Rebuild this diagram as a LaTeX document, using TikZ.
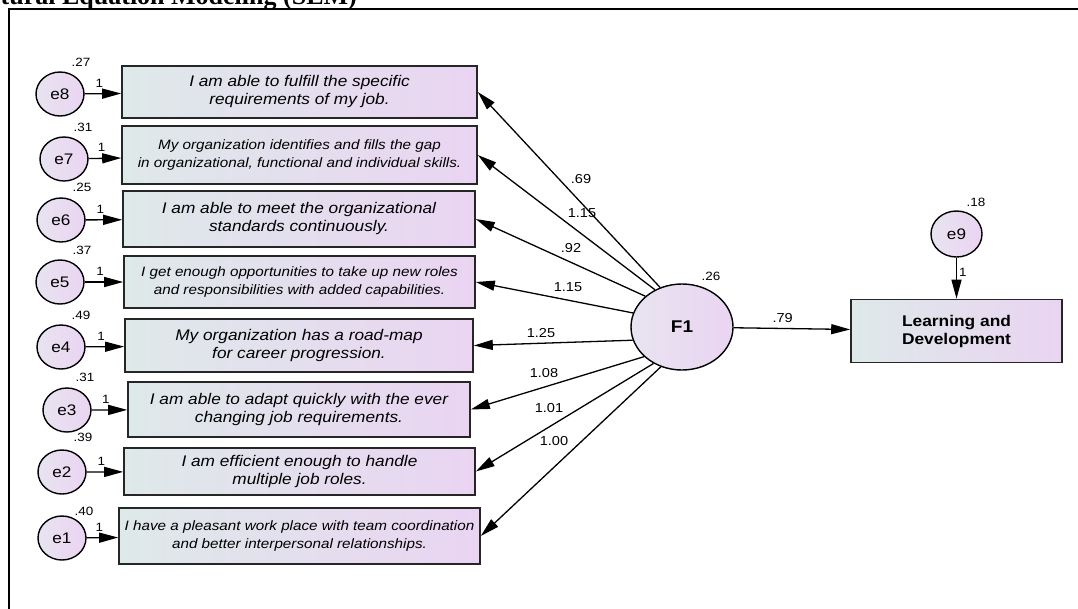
\documentclass[tikz,border=0pt]{standalone}
\usepackage{fontspec}
\setmainfont{Liberation Sans}[FakeStretch=1.12]
\newfontfamily\titlefont{Liberation Serif}
\usetikzlibrary{arrows.meta,shapes.geometric}
\definecolor{itemleft}{RGB}{222,233,233}
\definecolor{itemright}{RGB}{234,212,242}
\definecolor{errleft}{RGB}{232,228,240}
\newcommand{\itemtxt}{\fontsize{15.4}{18}\selectfont\itshape}
\newcommand{\itemsmall}{\fontsize{13.6}{18}\selectfont\itshape}
\begin{document}
\begin{tikzpicture}[x=1pt,y=-1pt,
  item/.style={draw=black!85,line width=1.6pt,rectangle,left color=itemleft,right color=itemright,align=center,inner sep=0pt},
  err/.style={draw=black,line width=1.4pt,ellipse,minimum width=48pt,minimum height=44pt,inner sep=0pt,left color=errleft,right color=itemright,font=\fontsize{15.3}{18}\selectfont},
  var/.style={font=\fontsize{12}{14}\selectfont,inner sep=0pt},
  coef/.style={font=\fontsize{13}{15}\selectfont,inner sep=0pt},
  one/.style={font=\fontsize{12}{14}\selectfont,inner sep=1pt},
  arr/.style={line width=1.3pt,-{Triangle[length=19pt,width=10pt]}}]
\useasboundingbox(0,0)rectangle(1078,608);
% Rahmen und Titel
\begin{scope}
\clip(0,0)rectangle(1078,608);
\node[overlay,anchor=base east,inner sep=0pt,font=\titlefont\bfseries\fontsize{26}{28}\selectfont]at(357,4.5)(title){Structural Equation Modeling (SEM)};
\end{scope}
\draw[line width=2.5pt](9,610) -- (9,9) -- (1080,9);

% Items
\node[item,minimum width=355pt,minimum height=52pt,font=\itemtxt]at(299.5,92)(item8){I am able to fulfill the specific\\requirements of my job.};
\node[item,minimum width=355pt,minimum height=58pt,font=\itemsmall]at(299.5,155)(item7){My organization identifies and fills the gap\\in organizational, functional and individual skills.};
\node[item,minimum width=352pt,minimum height=56pt,font=\itemtxt]at(299,219)(item6){I am able to meet the organizational\\standards continuously.};
\node[item,minimum width=351pt,minimum height=52pt,font=\itemsmall]at(299.5,282)(item5){I get enough opportunities to take up new roles\\and responsibilities with added capabilities.};
\node[item,minimum width=348pt,minimum height=53pt,font=\itemtxt]at(299,345.5)(item4){My organization has a road-map\\for career progression.};
\node[item,minimum width=342pt,minimum height=55pt,font=\itemtxt]at(299,409.5)(item3){I am able to adapt quickly with the ever\\changing job requirements.};
\node[item,minimum width=351pt,minimum height=47pt,font=\itemtxt]at(299.5,471.5)(item2){I am efficient enough to handle\\multiple job roles.};
\node[item,minimum width=361pt,minimum height=56pt,font=\itemsmall]at(299.5,536)(item1){I have a pleasant work place with team coordination\\and better interpersonal relationships.};

% Fehlerterme
\node[err]at(60,94)(e8){e8};
\node[err]at(64,159)(e7){e7};
\node[err]at(61,220)(e6){e6};
\node[err]at(60,282)(e5){e5};
\node[err]at(61,347)(e4){e4};
\node[err]at(67,410)(e3){e3};
\node[err]at(62,472)(e2){e2};
\node[err]at(62,538)(e1){e1};
\node[var]at(81,62)(v8){.27};
\node[var]at(83,127)(v7){.31};
\node[var]at(82,187)(v6){.25};
\node[var]at(82,250)(v5){.37};
\node[var]at(81,315)(v4){.49};
\node[var]at(85,377)(v3){.31};
\node[var]at(83,437)(v2){.39};
\node[var]at(84,511)(v1){.40};
\draw[arr](e8) to node[one,pos=0.4,above=5pt](o8){1}(item8);
\draw[arr](e7) to node[one,pos=0.4,above=5pt](o7){1}(item7);
\draw[arr](e6) to node[one,pos=0.4,above=5pt](o6){1}(item6);
\draw[arr](e5) to node[one,pos=0.4,above=5pt](o5){1}(item5);
\draw[arr](e4) to node[one,pos=0.4,above=5pt](o4){1}(item4);
\draw[arr](e3) to node[one,pos=0.4,above=5pt](o3){1}(item3);
\draw[arr](e2) to node[one,pos=0.4,above=5pt](o2){1}(item2);
\draw[arr](e1) to node[one,pos=0.4,above=5pt](o1){1}(item1);

% Faktor
\node[draw,ellipse,line width=1.4pt,minimum width=102pt,minimum height=86pt,inner sep=0pt,left color=errleft,right color=itemright,font=\bfseries\fontsize{17}{19}\selectfont]at(682,327)(F1){F1};
\node[var]at(711,276)(vF){.26};
\draw[arr](F1.119) to (item8.east);
\draw[arr](F1.126) to (item7.east);
\draw[arr](F1.140) to (item6.east);
\draw[arr](F1.164) to (item5.east);
\draw[arr](F1.195) to (item4.east);
\draw[arr](F1.218) to (item3.east);
\draw[arr](F1.232) to (item2.east);
\draw[arr](F1.242) to (item1.east);
\node[coef]at(581,179)(c8){.69};
\node[coef]at(582,213)(c7){1.15};
\node[coef]at(571,248)(c6){.92};
\node[coef]at(568,287)(c5){1.15};
\node[coef]at(541,333)(c4){1.25};
\node[coef]at(544,373)(c3){1.08};
\node[coef]at(549,408)(c2){1.01};
\node[coef]at(554,441)(c1){1.00};

% Learning and Development
\node[item,minimum width=211pt,minimum height=63pt,font=\bfseries\fontsize{15.5}{18}\selectfont]at(956.5,331)(LD){Learning and\\Development};
\node[err,minimum width=51pt,minimum height=46pt]at(956.5,234)(e9){e9};
\node[var]at(976,202)(v9){.18};
\draw[arr](e9) to node[one,pos=0.35,right=1pt](o9){1}(LD);
\draw[arr](F1) to node[coef,pos=0.42,above=5pt](c9){.79}(LD);
\end{tikzpicture}
\end{document}
